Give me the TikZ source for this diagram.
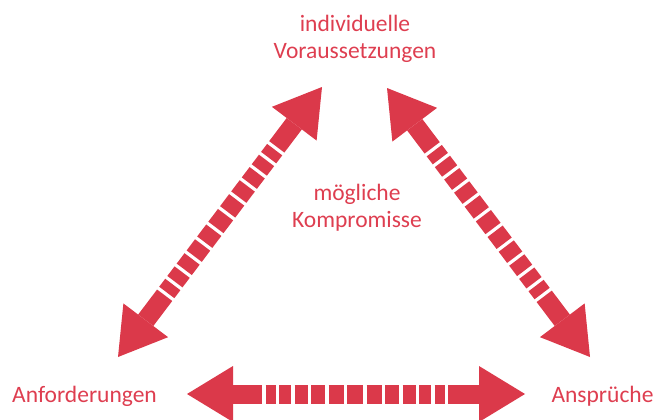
\documentclass[tikz,border=0pt]{standalone}
\usepackage{fontspec}
\setmainfont{Carlito}
\usepackage{tikz}
\usepackage{xcolor}
\usetikzlibrary{arrows.meta}
\definecolor{arrow-red}{RGB}{219,57,74}
\definecolor{label-red}{RGB}{222,62,80}
\tikzset{
    red-label/.style = {text=label-red, font=\fontsize{23.5}{27}\selectfont, inner sep=0pt, align=center},
    stripe-arrow/.style = {draw=arrow-red, line width=19pt,
        {Triangle[length=46pt, width=56pt, line width=0pt]}-{Triangle[length=46pt, width=56pt, line width=0pt]},
        dash pattern=on 29pt off 3.5pt on 10pt off 3.5pt on 12pt off 3.5pt on 13pt off 3.5pt on 14pt off 3.5pt
            on 15pt off 3.5pt on 16pt off 3.5pt on 15pt off 3.5pt on 14pt off 3.5pt on 13pt off 3.5pt
            on 12pt off 3.5pt on 10pt off 3.5pt on 60pt},
}

\begin{document}
\begin{tikzpicture}[x=1pt, y=-1pt]
\useasboundingbox (0,0) rectangle (656,420);
% labels
\node[red-label] (voraus) at (355,38.6) {individuelle\\Voraussetzungen};
\node[red-label] (kompromiss) at (357,207.6) {mögliche\\Kompromisse};
\node[red-label, anchor=base] (anford) at (84.5,402) {Anforderungen};
\node[red-label, anchor=base] (anspr) at (602.5,402) {Ansprüche};
% arrow tips
\coordinate (voraus-left) at (322,87);
\coordinate (voraus-right) at (387,88);
\coordinate (anford-top) at (118,357);
\coordinate (anford-right) at (187,394);
\coordinate (anspr-top) at (590,357);
\coordinate (anspr-left) at (525,394);
% arrows
\draw[stripe-arrow] (voraus-left) -- (anford-top);
\draw[stripe-arrow] (voraus-right) -- (anspr-top);
\draw[stripe-arrow] (anford-right) -- (anspr-left);
\end{tikzpicture}
\end{document}
